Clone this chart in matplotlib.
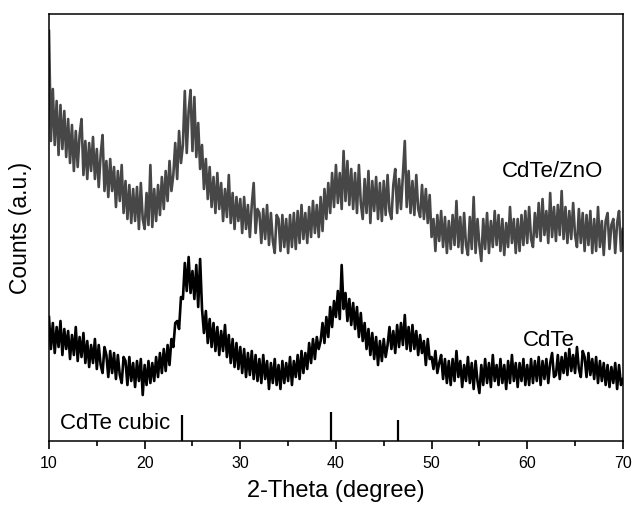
import numpy as np
import matplotlib.pyplot as plt

plt.rcParams['font.family'] = ['Liberation Sans', 'DejaVu Sans']

# 2-theta grid, 0.2 degree step from 10 to 70
theta_start = 10.0
theta_step = 0.2

# CdTe/ZnO pattern (arb. units), 5 points per degree
cdte_zno = [
    410, 300, 352, 296, 340,  286, 336, 292, 330, 284,
    322, 278, 316, 270, 310,  274, 306, 322, 266, 300,
    262, 298, 270, 304, 262,  292, 254, 286, 306, 250,
    280, 244, 282, 250, 274,  234, 270, 240, 276, 228,
    260, 222, 256, 218, 252,  220, 254, 212, 258, 222,
    212, 248, 216, 276, 214,  252, 220, 256, 226, 264,
    232, 270, 240, 280, 250,  266, 298, 262, 310, 278,
    296, 350, 288, 330, 351,  290, 344, 284, 318, 272,
    296, 252, 282, 242, 274,  234, 264, 228, 268, 232,
    258, 220, 252, 224, 266,  218, 248, 212, 244, 220,
    242, 208, 244, 212, 236,  204, 236, 258, 208, 232,
    228, 198, 232, 202, 236,  196, 228, 200, 188, 226,
    222, 190, 226, 194, 222,  188, 226, 194, 228, 192,
    230, 198, 236, 202, 228,  198, 234, 204, 240, 208,
    236, 204, 244, 210, 252,  222, 258, 228, 268, 234,
    276, 238, 268, 232, 290,  240, 280, 236, 272, 232,
    268, 228, 276, 238, 222,  262, 228, 270, 218, 260,
    230, 264, 222, 258, 220,  260, 226, 266, 230, 222,
    256, 272, 228, 262, 232,  266, 300, 234, 270, 228,
    260, 226, 266, 232, 224,  256, 222, 252, 218, 246,
    204, 222, 190, 226, 200,  230, 194, 224, 188, 220,
    192, 226, 196, 240, 194,  224, 188, 228, 196, 186,
    224, 192, 244, 188, 222,  196, 180, 222, 192, 228,
    188, 220, 194, 230, 196,  226, 190, 222, 186, 218,
    194, 234, 198, 222, 188,  222, 190, 226, 196, 230,
    198, 234, 202, 194, 228,  204, 238, 200, 242, 206,
    230, 198, 248, 204, 234,  200, 236, 206, 250, 202,
    234, 198, 230, 202, 238,  206, 194, 232, 198, 228,
    190, 226, 196, 230, 188,  222, 190, 234, 194, 220,
    186, 220, 228, 192, 216,  222, 188, 218, 230, 190,
    212,
]

# CdTe pattern (arb. units)
cdte = [
    124, 92, 118, 88, 114,  94, 120, 86, 112, 92,
    110, 82, 106, 86, 114,  80, 104, 84, 108, 78,
    100, 74, 96, 78, 102,  72, 96, 76, 68, 94,
    86, 64, 90, 68, 88,  62, 86, 66, 58, 84,
    80, 56, 84, 60, 78,  54, 80, 60, 82, 46,
    76, 56, 80, 58, 78,  60, 84, 64, 88, 68,
    92, 70, 96, 76, 102,  94, 118, 120, 112, 144,
    142, 178, 150, 184, 148,  170, 142, 176, 134, 182,
    132, 108, 130, 98, 122,  94, 118, 90, 114, 86,
    110, 90, 116, 84, 106,  78, 102, 74, 98, 72,
    94, 68, 92, 64, 88,  66, 90, 62, 86, 60,
    82, 58, 86, 62, 80,  52, 78, 58, 82, 56,
    76, 52, 80, 58, 78,  60, 84, 56, 80, 64,
    86, 62, 90, 68, 88,  72, 98, 78, 102, 82,
    104, 92, 100, 118, 98,  124, 104, 134, 114, 140,
    124, 150, 122, 176, 132,  148, 120, 142, 116, 138,
    112, 134, 104, 128, 100,  118, 92, 112, 86, 108,
    82, 104, 76, 100, 80,  102, 84, 96, 114, 92,
    110, 88, 116, 94, 118,  96, 126, 92, 114, 90,
    116, 92, 110, 86, 106,  88, 100, 76, 102, 82,
    84, 72, 90, 68, 78,  86, 62, 82, 58, 80,
    56, 82, 60, 90, 64,  80, 54, 76, 60, 84,
    58, 78, 52, 80, 60,  48, 76, 56, 82, 58,
    78, 54, 86, 60, 76,  56, 82, 58, 76, 52,
    80, 58, 86, 60, 78,  54, 78, 60, 82, 56,
    76, 56, 82, 58, 80,  60, 84, 56, 80, 62,
    82, 58, 78, 88, 64,  66, 86, 62, 84, 68,
    88, 66, 92, 70, 86,  68, 94, 72, 64, 90,
    84, 64, 88, 66, 82,  62, 84, 58, 80, 60,
    78, 56, 76, 54, 74,  58, 78, 52, 76, 56,
    62,
]

# reference stick pattern (CdTe cubic)
ref_pos = [23.9, 39.5, 46.5]
ref_height = [26, 29, 21]

theta = theta_start + theta_step * np.arange(len(cdte))

fig = plt.figure(figsize=(6.33, 5.05), dpi=100)
ax = fig.add_axes([0.0774, 0.1267, 0.9066, 0.8456])

ax.plot(theta, cdte_zno, color='#474747', lw=1.9)
ax.plot(theta, cdte, color='black', lw=1.9)
ax.vlines(ref_pos, 0, ref_height, color='black', lw=1.6)

ax.text(57.35, 269, 'CdTe/ZnO', fontsize=16, va='center')
ax.text(59.55, 101, 'CdTe', fontsize=16, va='center')
ax.text(11.15, 18, 'CdTe cubic', fontsize=16, va='center')

ax.set_xlim(10, 70)
ax.set_ylim(0, 427)
ax.set_xticks(np.arange(10, 71, 10))
ax.set_xticks(np.arange(15, 70, 10), minor=True)
ax.set_yticks([])
ax.tick_params(axis='x', which='major', direction='out', length=6, width=1.2,
               labelsize=11.5, pad=5)
ax.tick_params(axis='x', which='minor', direction='out', length=3.5, width=1.2)
for s in ax.spines.values():
    s.set_linewidth(1.1)

ax.set_xlabel('2-Theta (degree)', fontsize=17, labelpad=6)
ax.set_ylabel('Counts (a.u.)', fontsize=16.5, labelpad=12)

plt.savefig('out.png', dpi=100)
